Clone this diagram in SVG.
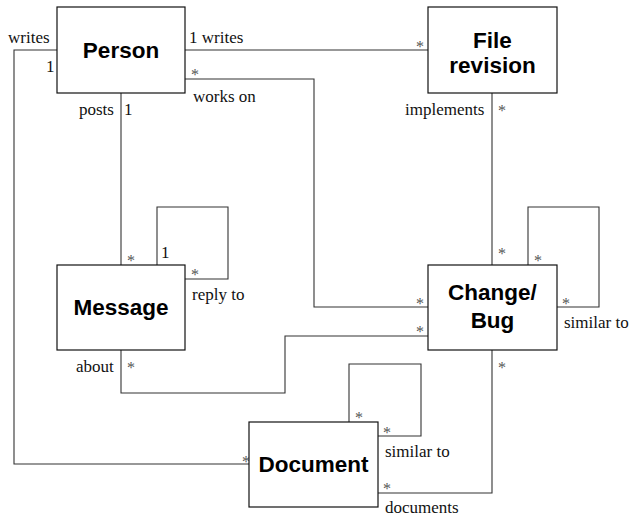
<svg xmlns="http://www.w3.org/2000/svg" width="629" height="516" viewBox="0 0 629 516">
<style>
.box{fill:#fff;stroke:#111;stroke-width:1.2}
.nl{font-family:"Liberation Sans",Arial,sans-serif;font-weight:bold;font-size:22.5px;text-anchor:middle;fill:#000}
.lb{font-family:"Liberation Serif","Times New Roman",serif;font-size:17px;fill:#111}
.m{font-family:"Liberation Serif","Times New Roman",serif;font-size:16px;fill:#555}
.c{fill:none;stroke:#333;stroke-width:1.1}
</style>
<rect width="629" height="516" fill="#fff"/>
<g id="connectors">
<path class="c" d="M185 50H428"/>
<path class="c" d="M57 50H14V464H249"/>
<path class="c" d="M121 93V265"/>
<path class="c" d="M185 79H314V307H428"/>
<path class="c" d="M492 93V265"/>
<path class="c" d="M157 265V207H228V279H185"/>
<path class="c" d="M528 265V207H599V307H557"/>
<path class="c" d="M121 350V393H285V336H428"/>
<path class="c" d="M349 422V364H421V436H378"/>
<path class="c" d="M378 493H492V350"/>
</g>
<g id="labels">
<text class="lb" x="8" y="43">writes</text>
<text class="lb" x="46" y="72">1</text>
<text class="lb" x="189" y="43">1 writes</text>
<text class="m" x="191" y="80">*</text>
<text class="lb" x="193" y="102">works on</text>
<text class="lb" x="79" y="115">posts</text>
<text class="lb" x="124" y="115">1</text>
<text class="m" x="416" y="52">*</text>
<text class="lb" x="405" y="115">implements</text>
<text class="m" x="498" y="116">*</text>
<text class="m" x="127" y="266">*</text>
<text class="lb" x="161" y="258">1</text>
<text class="m" x="191" y="280">*</text>
<text class="lb" x="192" y="300">reply to</text>
<text class="lb" x="76" y="372">about</text>
<text class="m" x="127" y="373">*</text>
<text class="m" x="498" y="259">*</text>
<text class="m" x="534" y="266">*</text>
<text class="m" x="562" y="309">*</text>
<text class="m" x="416" y="309">*</text>
<text class="m" x="416" y="337">*</text>
<text class="lb" x="564" y="328">similar to</text>
<text class="m" x="498" y="373">*</text>
<text class="m" x="355" y="423">*</text>
<text class="m" x="383" y="438">*</text>
<text class="lb" x="385" y="457">similar to</text>
<text class="m" x="383" y="494">*</text>
<text class="lb" x="385" y="513">documents</text>
<text class="m" x="242" y="467">*</text>
</g>
<g id="person"><rect class="box" x="57" y="7" width="128" height="86"/><text class="nl" x="121" y="58">Person</text></g>
<g id="file-revision"><rect class="box" x="428" y="7" width="129" height="86"/><text class="nl" x="492.5" y="48">File</text><text class="nl" x="492.5" y="73">revision</text></g>
<g id="message"><rect class="box" x="57" y="265" width="128" height="85"/><text class="nl" x="121" y="315">Message</text></g>
<g id="change-bug"><rect class="box" x="428" y="265" width="129" height="85"/><text class="nl" x="492.5" y="300">Change/</text><text class="nl" x="492.5" y="328">Bug</text></g>
<g id="document"><rect class="box" x="249" y="422" width="129" height="85"/><text class="nl" x="313.5" y="472">Document</text></g>
</svg>
